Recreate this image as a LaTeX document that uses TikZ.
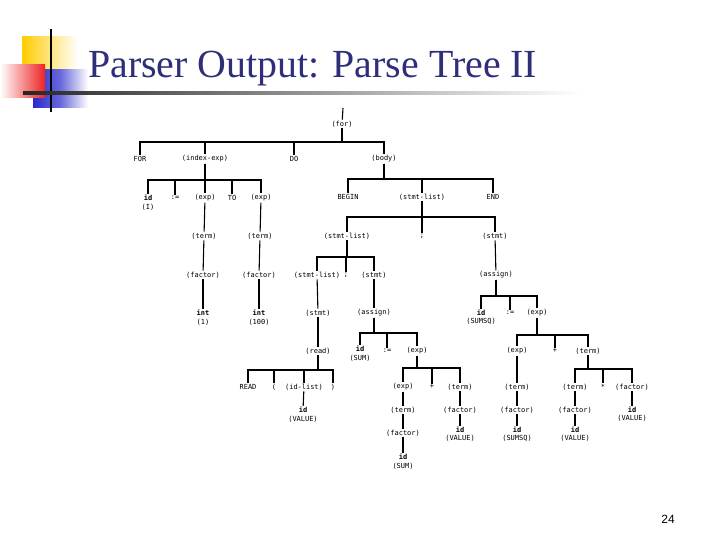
\documentclass[tikz,border=0pt]{standalone}
\usepackage{fontspec}
\setmainfont{Liberation Serif}
\newfontfamily\treefont{DejaVu Sans Mono}
\newfontfamily\pagefont{Liberation Sans}
\usetikzlibrary{calc}
\definecolor{ctitle}{HTML}{2E2E7A}
\definecolor{cyellow}{HTML}{FFCC00}
\definecolor{cred}{HTML}{EE2222}
\definecolor{cblue}{HTML}{2A2ACC}
\tikzset{
  sym/.style={font=\treefont\fontsize{7}{8}\selectfont, inner sep=1pt},
  tok/.style={sym, font=\treefont\bfseries\fontsize{7}{8}\selectfont},
  branch/.style={draw=black, line width=1.1pt},
  title/.style={font=\fontsize{40}{48}\selectfont, text=ctitle, inner sep=0pt},
}

\begin{document}
\begin{tikzpicture}[x=1bp, y=-1bp]
  \useasboundingbox[fill=white] (0,0) rectangle (720,540);
  % logo
  \shade[left color=cyellow, right color=white] (22,37) rectangle (78,72);
  \shade[left color=cblue, right color=white, middle color=cblue!70] (33,70) rectangle (88,108);
  \shade[left color=white, right color=cred] (0,65) rectangle (45,98);
  \draw[line width=2pt] (51,29) -- (51,112);
  \shade[left color=black!85, right color=white] (23,91.5) rectangle (580,94.5);
  \node[title, anchor=base west] (ttl) at (88,78) {Parser Output: Parse Tree II};
  \node[font=\pagefont\fontsize{12}{14}\selectfont] (pg) at (668,519) {24};
  % bars
  \coordinate (top) at (343,108);
  \coordinate (bfor) at (0,142);
  \coordinate (bidx) at (0,180);
  \coordinate (bbody) at (0,179);
  \coordinate (bsla) at (0,217);
  \coordinate (bslb) at (0,257);
  \coordinate (basa) at (0,333);
  \coordinate (bread) at (0,370);
  \coordinate (bexpa) at (0,368);
  \coordinate (basb) at (0,296);
  \coordinate (bexpb) at (0,335);
  \coordinate (bterm) at (0,369);
  % nodes
  \node[sym] (for) at (342,124) {(for)};
  \node[sym] (kfor) at (140,159) {FOR};
  \node[sym] (idx) at (205,159) {(index-exp)};
  \node[sym] (kdo) at (294,159) {DO};
  \node[sym] (body) at (384,159) {(body)};
  \node[tok] (ida) at (148,198) {id};
  \node[sym] (idav) at (148,207) {(I)};
  \node[sym] (asga) at (175,198) {:=};
  \node[sym] (expa) at (205,198) {(exp)};
  \node[sym] (kto) at (232,198) {TO};
  \node[sym] (expb) at (261,198) {(exp)};
  \node[sym] (terma) at (204,236) {(term)};
  \node[sym] (termb) at (260,236) {(term)};
  \node[sym] (faca) at (203,275) {(factor)};
  \node[sym] (facb) at (259,275) {(factor)};
  \node[tok] (inta) at (203,313) {int};
  \node[sym] (intav) at (203,322) {(1)};
  \node[tok] (intb) at (259,313) {int};
  \node[sym] (intbv) at (259,322) {(100)};
  \node[sym] (kbegin) at (348,197) {BEGIN};
  \node[sym] (sla) at (422,197) {(stmt-list)};
  \node[sym] (kend) at (493,197) {END};
  \node[sym] (slb) at (347,236) {(stmt-list)};
  \node[sym] (semia) at (422,236) {;};
  \node[sym] (sta) at (495,236) {(stmt)};
  \node[sym] (slc) at (317,275) {(stmt-list)};
  \node[sym] (semib) at (346,275) {;};
  \node[sym] (stb) at (374,275) {(stmt)};
  \node[sym] (stc) at (318,313) {(stmt)};
  \node[sym] (asa) at (374,313) {(assign)};
  \node[sym] (read) at (318,351) {(read)};
  \node[sym] (kread) at (248,387) {READ};
  \node[sym] (lpar) at (274,387) {(};
  \node[sym] (idl) at (304,387) {(id-list)};
  \node[sym] (rpar) at (333,387) {)};
  \node[tok] (idb) at (303,410) {id};
  \node[sym] (idbv) at (303,419) {(VALUE)};
  \node[tok] (idc) at (360,349) {id};
  \node[sym] (idcv) at (360,358) {(SUM)};
  \node[sym] (asgb) at (387,351) {:=};
  \node[sym] (expc) at (417,351) {(exp)};
  \node[sym] (expd) at (403,387) {(exp)};
  \node[sym] (plusa) at (432,387) {+};
  \node[sym] (termc) at (460,387) {(term)};
  \node[sym] (termd) at (403,410) {(term)};
  \node[sym] (facc) at (403,433) {(factor)};
  \node[tok] (idd) at (403,457) {id};
  \node[sym] (iddv) at (403,466) {(SUM)};
  \node[sym] (facd) at (460,410) {(factor)};
  \node[tok] (ide) at (460,430) {id};
  \node[sym] (idev) at (460,438) {(VALUE)};
  \node[sym] (asb) at (496,275) {(assign)};
  \node[tok] (idf) at (481,313) {id};
  \node[sym] (idfv) at (481,321) {(SUMSQ)};
  \node[sym] (asgc) at (510,313) {:=};
  \node[sym] (expe) at (537,313) {(exp)};
  \node[sym] (expf) at (517,351) {(exp)};
  \node[sym] (plusb) at (555,351) {+};
  \node[sym] (terme) at (588,351) {(term)};
  \node[sym] (termf) at (517,387) {(term)};
  \node[sym] (face) at (517,410) {(factor)};
  \node[tok] (idg) at (517,430) {id};
  \node[sym] (idgv) at (517,438) {(SUMSQ)};
  \node[sym] (termg) at (575,387) {(term)};
  \node[sym] (star) at (603,387) {*};
  \node[sym] (facf) at (632,387) {(factor)};
  \node[sym] (facg) at (575,410) {(factor)};
  \node[tok] (idh) at (575,430) {id};
  \node[sym] (idhv) at (575,438) {(VALUE)};
  \node[tok] (idi) at (632,410) {id};
  \node[sym] (idiv) at (632,418) {(VALUE)};
  % branches
  \draw[branch] (top) -- (for);
  \foreach \c in {kfor, idx, kdo, body}
    \draw[branch] (for.south) |- (\c.north |- bfor) -- (\c.north);
  \foreach \c in {ida, asga, expa, kto, expb}
    \draw[branch] (idx.south) |- (\c.north |- bidx) -- (\c.north);
  \foreach \c in {kbegin, sla, kend}
    \draw[branch] (body.south) |- (\c.north |- bbody) -- (\c.north);
  \foreach \c in {slb, semia, sta}
    \draw[branch] (sla.south) |- (\c.north |- bsla) -- (\c.north);
  \foreach \c in {slc, semib, stb}
    \draw[branch] (slb.south) |- (\c.north |- bslb) -- (\c.north);
  \foreach \c in {idc, asgb, expc}
    \draw[branch] (asa.south) |- (\c.north |- basa) -- (\c.north);
  \foreach \c in {kread, lpar, idl, rpar}
    \draw[branch] (read.south) |- (\c.north |- bread) -- (\c.north);
  \foreach \c in {expd, plusa, termc}
    \draw[branch] (expc.south) |- (\c.north |- bexpa) -- (\c.north);
  \foreach \c in {idf, asgc, expe}
    \draw[branch] (asb.south) |- (\c.north |- basb) -- (\c.north);
  \foreach \c in {expf, plusb, terme}
    \draw[branch] (expe.south) |- (\c.north |- bexpb) -- (\c.north);
  \foreach \c in {termg, star, facf}
    \draw[branch] (terme.south) |- (\c.north |- bterm) -- (\c.north);
  \draw[branch] (expa) -- (terma);
  \draw[branch] (terma) -- (faca);
  \draw[branch] (faca) -- (inta);
  \draw[branch] (expb) -- (termb);
  \draw[branch] (termb) -- (facb);
  \draw[branch] (facb) -- (intb);
  \draw[branch] (slc) -- (stc);
  \draw[branch] (stc) -- (read);
  \draw[branch] (stb) -- (asa);
  \draw[branch] (idl) -- (idb);
  \draw[branch] (expd) -- (termd);
  \draw[branch] (termd) -- (facc);
  \draw[branch] (facc) -- (idd);
  \draw[branch] (termc) -- (facd);
  \draw[branch] (facd) -- (ide);
  \draw[branch] (sta) -- (asb);
  \draw[branch] (expf) -- (termf);
  \draw[branch] (termf) -- (face);
  \draw[branch] (face) -- (idg);
  \draw[branch] (termg) -- (facg);
  \draw[branch] (facg) -- (idh);
  \draw[branch] (facf) -- (idi);
\end{tikzpicture}
\end{document}
